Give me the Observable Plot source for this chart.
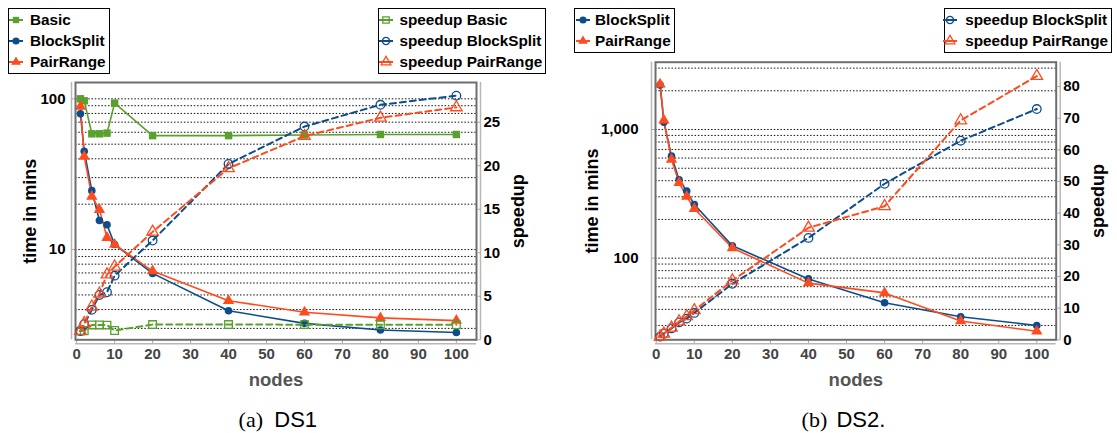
<!DOCTYPE html>
<html><head><meta charset="utf-8">
<script src="https://cdn.jsdelivr.net/npm/d3@7"></script>
<script src="https://cdn.jsdelivr.net/npm/@observablehq/plot@0.6"></script>
<style>
body{margin:0;background:#fff;}
#root{position:relative;width:1117px;height:433px;overflow:hidden;font-family:"Liberation Sans",Arial,sans-serif;background:#fff;}
.panel{position:absolute;top:0;height:400px;}
.panel svg{position:absolute;left:0;top:0;}
.legend{position:absolute;border:1.5px solid #000;background:#fff;box-sizing:border-box;font-weight:bold;font-size:15.3px;color:#000;}
.legend .item{position:absolute;left:0;height:20px;width:100%;}
.legend .item svg{position:absolute;top:0;}
.legend .item span{position:absolute;top:0;line-height:20px;white-space:nowrap;}
.cap{position:absolute;white-space:nowrap;line-height:24px;}
</style></head>
<body><div id="root"></div>
<script>
// ---------------- data ----------------
const nodes = [1, 2, 4, 6, 8, 10, 20, 40, 60, 80, 100];
const xTicks = [0, 10, 20, 30, 40, 50, 60, 70, 80, 90, 100];

// DS1 (time in mins, log axis)
const ds1TimeBasic      = [100, 97, 58.6, 58.6, 59.2, 93.6, 57, 57, 57.5, 58, 58];
const ds1TimeBlockSplit = [79.5, 44.9, 24.6, 15.6, 14.6, 10.8, 6.95, 3.93, 3.24, 2.93, 2.82];
const ds1TimePairRange  = [88.9, 41.4, 22.5, 18.4, 12.0, 10.8, 7.2, 4.58, 3.84, 3.52, 3.38];
// DS1 speedup (right axis)
const ds1SpeedBasic      = [1.0, 1.03, 1.71, 1.71, 1.69, 1.07, 1.75, 1.75, 1.74, 1.72, 1.72];
const ds1SpeedBlockSplit = [1.0, 1.8, 3.44, 5.15, 5.46, 7.37, 11.4, 20.2, 24.5, 27.0, 28.05];
const ds1SpeedPairRange  = [1.0, 1.9, 3.8, 5.3, 7.5, 8.4, 12.4, 19.7, 23.4, 25.5, 26.7];
const ds1TimeTicks  = [10, 100];
const ds1SpeedTicks = [0, 5, 10, 15, 20, 25];

// DS2
const ds2TimeBlockSplit = [2223, 1140, 621, 407, 332, 261, 124.7, 69, 45, 35, 30];
const ds2TimePairRange  = [2250, 1180, 585, 385, 302, 242, 120, 64, 53.7, 32.5, 27];
const ds2SpeedBlockSplit = [1.0, 2.0, 3.6, 5.5, 6.7, 8.5, 17.7, 32.2, 49.3, 62.9, 72.9];
const ds2SpeedPairRange  = [1.0, 1.9, 3.8, 5.8, 7.4, 9.3, 18.7, 35.4, 42.2, 69.3, 83.3];
const ds2TimeTicks  = [100, 1000];
const ds2SpeedTicks = [0, 10, 20, 30, 40, 50, 60, 70, 80];

const ds1Grid = [3, 4, 5, 6, 7, 8, 9, 10, 20, 30, 40, 50, 60, 70, 80, 90, 100];
const ds2Grid = [30, 40, 50, 60, 70, 80, 90, 100, 200, 300, 400, 500, 600, 700, 800, 900, 1000, 2000, 3000];

// ---------------- styles ----------------
const FONT = '"Liberation Sans", Arial, sans-serif';
const colors = {Basic: "#5aa02c", BlockSplit: "#0d4d8c", PairRange: "#ff4b1e"};
const symbols = {Basic: "square", BlockSplit: "circle", PairRange: "triangle"};

const rows = (ys) => nodes.map((x, i) => ({x, y: ys[i]}));
const root = document.getElementById("root");

function panel(o) {
  const H = 400;
  const div = document.createElement("div");
  div.className = "panel";
  div.style.left = o.left + "px";
  div.style.width = o.width + "px";
  root.appendChild(div);
  const common = {
    width: o.width, height: H,
    marginLeft: o.mL, marginRight: o.mR, marginTop: o.mT, marginBottom: o.mB,
    style: {background: "transparent", fontFamily: FONT, overflow: "visible"}
  };
  const timeMarks = [];
  for (const s of o.time) {
    timeMarks.push(Plot.line(rows(s.values), {x: "x", y: "y", stroke: colors[s.name], strokeWidth: 1.6}));
  }
  for (const s of o.time) {
    timeMarks.push(Plot.dot(rows(s.values), {x: "x", y: "y", symbol: symbols[s.name], fill: colors[s.name], r: s.name === "BlockSplit" ? 3.8 : 4.2}));
  }
  const p1 = Plot.plot({
    ...common,
    x: {domain: o.xDomain},
    y: {type: "log", domain: o.yDomain},
    marks: [
      Plot.ruleY(o.grid, {stroke: "#111", strokeWidth: 1, strokeDasharray: "1.5,1.8"}),
      Plot.ruleY([o.yDomain[0]], {dy: 4, stroke: "#b8b8b8", strokeWidth: 1.5}),
      Plot.ruleX([o.xDomain[0]], {dx: -4, stroke: "#b8b8b8", strokeWidth: 1.5}),
      Plot.axisX({ticks: xTicks, tickSize: 4, tickPadding: 5, fontSize: 15, fontWeight: "bold", fill: "#444", stroke: "#aaa", label: null}),
      Plot.axisY({ticks: o.yTicks, tickFormat: d3.format(","), tickSize: 4, tickPadding: o.padL, fontSize: 15, fontWeight: "bold", fill: "#000", stroke: "#aaa", label: null}),
      ...timeMarks,
      Plot.frame({stroke: "#6e6e6e", strokeWidth: 2}),
      Plot.text(["nodes"], {text: d => d, frameAnchor: "bottom", dy: 40, fontSize: 18.5, fontWeight: "bold", fill: "#555", lineAnchor: "middle"}),
      Plot.text(["time in mins"], {text: d => d, frameAnchor: "left", rotate: -90, dx: o.titleL, fontSize: 18, fontWeight: "bold", fill: "#000", textAnchor: "middle", lineAnchor: "middle"})
    ]
  });
  const speedMarks = [];
  for (const s of o.speed) {
    speedMarks.push(Plot.line(rows(s.values), {x: "x", y: "y", stroke: colors[s.name], strokeWidth: 2, strokeDasharray: "6,4"}));
  }
  for (const s of o.speed) {
    speedMarks.push(Plot.dot(rows(s.values), {x: "x", y: "y", symbol: symbols[s.name], fill: "none", stroke: colors[s.name], strokeWidth: 1.3, r: 4.3}));
  }
  const p2 = Plot.plot({
    ...common,
    x: {domain: o.xDomain, axis: null},
    y: {domain: o.sDomain, axis: null},
    marks: [
      Plot.ruleX([o.xDomain[1]], {dx: 4, stroke: "#b8b8b8", strokeWidth: 1.5}),
      Plot.axisY({anchor: "right", ticks: o.sTicks, tickSize: 4, tickPadding: o.padR, fontSize: 15, fontWeight: "bold", fill: "#000", stroke: "#aaa", label: null}),
      ...speedMarks,
      Plot.text(["speedup"], {text: d => d, frameAnchor: "right", rotate: -90, dx: o.titleR, fontSize: 18, fontWeight: "bold", fill: "#000", textAnchor: "middle", lineAnchor: "middle"})
    ]
  });
  div.appendChild(p1);
  div.appendChild(p2);
}

function legend(box, items) {
  const d = document.createElement("div");
  d.className = "legend";
  Object.assign(d.style, {left: box.x + "px", top: box.y + "px", width: box.w + "px", height: box.h + "px"});
  items.forEach((it, i) => {
    const row = document.createElement("div");
    row.className = "item";
    row.style.top = (box.rows[i] - box.y - 1.5 - 10) + "px";
    const mx = box.mx - box.x - 1.5;
    const c = colors[it.name];
    const sym = d3.symbol(d3[{square: "symbolSquare", circle: "symbolCircle", triangle: "symbolTriangle"}[symbols[it.name]]], Math.PI * 3.6 * 3.6)();
    const mk = it.hollow
      ? `<path d="${sym}" transform="translate(10,10)" fill="none" stroke="${c}" stroke-width="1.3"/>`
      : `<path d="${sym}" transform="translate(10,10)" fill="${c}"/>`;
    row.innerHTML = `<svg width="20" height="20" style="left:${mx - 10}px"><line x1="3" x2="17" y1="10" y2="10" stroke="${c}" stroke-width="2"/>${mk}</svg><span style="left:${box.tx - box.x - 1.5}px">${it.label}</span>`;
    d.appendChild(row);
  });
  root.appendChild(d);
}

panel({
  left: 0, width: 560, mL: 75, mR: 84, mT: 82, mB: 60.7,
  xDomain: [-0.3, 105.3], yDomain: [2.52, 128.3], yTicks: ds1TimeTicks, grid: ds1Grid,
  sDomain: [0, 29.56], sTicks: ds1SpeedTicks, padL: 6, padR: 3, titleL: -45, titleR: 42,
  time: [{name: "Basic", values: ds1TimeBasic}, {name: "BlockSplit", values: ds1TimeBlockSplit}, {name: "PairRange", values: ds1TimePairRange}],
  speed: [{name: "Basic", values: ds1SpeedBasic}, {name: "BlockSplit", values: ds1SpeedBlockSplit}, {name: "PairRange", values: ds1SpeedPairRange}]
});
panel({
  left: 560, width: 557, mL: 95, mR: 61.3, mT: 61.7, mB: 60.7,
  xDomain: [-0.2, 105.1], yDomain: [23.2, 3336], yTicks: ds2TimeTicks, grid: ds2Grid,
  sDomain: [0, 87.7], sTicks: ds2SpeedTicks, padL: 13, padR: 3, titleL: -63, titleR: 42,
  time: [{name: "BlockSplit", values: ds2TimeBlockSplit}, {name: "PairRange", values: ds2TimePairRange}],
  speed: [{name: "BlockSplit", values: ds2SpeedBlockSplit}, {name: "PairRange", values: ds2SpeedPairRange}]
});

legend({x: 7.9, y: 8.3, w: 101.7, h: 65.7, rows: [20.7, 42, 63], mx: 16.8, tx: 30.4},
  [{name: "Basic", label: "Basic"}, {name: "BlockSplit", label: "BlockSplit"}, {name: "PairRange", label: "PairRange"}]);
legend({x: 377.9, y: 8.3, w: 168.5, h: 65.7, rows: [20.7, 42, 63], mx: 386.4, tx: 400},
  [{name: "Basic", label: "speedup Basic", hollow: true}, {name: "BlockSplit", label: "speedup BlockSplit", hollow: true}, {name: "PairRange", label: "speedup PairRange", hollow: true}]);
legend({x: 574.2, y: 8.3, w: 100.5, h: 45, rows: [20.7, 42], mx: 583, tx: 595.5},
  [{name: "BlockSplit", label: "BlockSplit"}, {name: "PairRange", label: "PairRange"}]);
legend({x: 944.4, y: 8.3, w: 168, h: 45, rows: [20.7, 42], mx: 950.8, tx: 965.7},
  [{name: "BlockSplit", label: "speedup BlockSplit", hollow: true}, {name: "PairRange", label: "speedup PairRange", hollow: true}]);

function caption(x1, t1, x2, t2) {
  const a = document.createElement("div");
  a.className = "cap";
  Object.assign(a.style, {left: x1 + "px", top: "408px", fontFamily: '"Liberation Serif", serif', fontSize: "22px"});
  a.textContent = t1;
  const b = document.createElement("div");
  b.className = "cap";
  Object.assign(b.style, {left: x2 + "px", top: "408px", fontFamily: FONT, fontSize: "22px"});
  b.textContent = t2;
  root.appendChild(a); root.appendChild(b);
}
caption(238.6, "(a)", 274.3, "DS1");
caption(801.6, "(b)", 836.4, "DS2.");
</script></body></html>
